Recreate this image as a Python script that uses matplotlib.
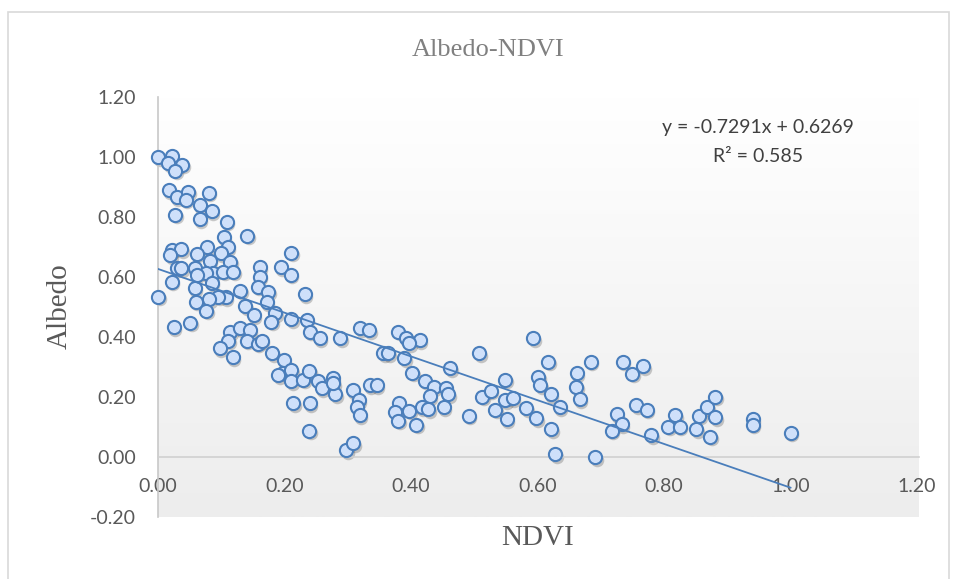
import matplotlib
matplotlib.use("Agg")
import matplotlib.pyplot as plt
import matplotlib.transforms as mtransforms
from matplotlib.patches import Rectangle
import numpy as np

# NDVI / Albedo pairs
ndvi = [
    0.000, 0.022, 0.016, 0.038, 0.027, 0.017, 0.030, 0.048, 0.044, 0.080,
    0.066, 0.085, 0.027, 0.066, 0.109, 0.104, 0.141, 0.110, 0.022, 0.037,
    0.019, 0.077, 0.061, 0.099, 0.211, 0.082, 0.114, 0.161, 0.194, 0.030,
    0.037, 0.058, 0.087, 0.103, 0.076, 0.119, 0.161, 0.210, 0.061, 0.022,
    0.085, 0.058, 0.158, 0.174, 0.232, 0.000, 0.107, 0.095, 0.130, 0.081,
    0.060, 0.172, 0.138, 0.076, 0.151, 0.185, 0.211, 0.179, 0.235, 0.025,
    0.051, 0.114, 0.130, 0.145,
    0.111, 0.240, 0.256, 0.288, 0.140, 0.158, 0.164, 0.098, 0.118, 0.181,
    0.199, 0.198, 0.211, 0.190, 0.211, 0.230, 0.239, 0.253, 0.259, 0.276,
    0.280, 0.277, 0.214, 0.240, 0.239, 0.298,
    0.320, 0.334, 0.380, 0.392, 0.414, 0.397, 0.356, 0.364, 0.389, 0.508,
    0.462, 0.402, 0.422, 0.436, 0.455, 0.459, 0.430, 0.308, 0.317, 0.314,
    0.319, 0.335, 0.346, 0.381, 0.374, 0.397, 0.380, 0.408, 0.417, 0.427,
    0.452, 0.491, 0.513, 0.526, 0.549, 0.533, 0.549, 0.561, 0.551, 0.309,
    0.593, 0.617, 0.601, 0.604, 0.621, 0.662, 0.661, 0.667, 0.684, 0.735,
    0.767, 0.750, 0.582, 0.598, 0.622, 0.635, 0.628, 0.691, 0.725, 0.733,
    0.717, 0.756, 0.773, 0.780, 0.807, 0.818, 0.825, 0.851, 0.856, 0.868,
    0.881, 0.881, 0.873, 0.940, 0.940, 1.000,
]
albedo = [
    1.000, 1.003, 0.980, 0.975, 0.955, 0.890, 0.866, 0.884, 0.857, 0.881,
    0.840, 0.820, 0.807, 0.792, 0.784, 0.732, 0.737, 0.700, 0.690, 0.692,
    0.673, 0.699, 0.677, 0.679, 0.681, 0.654, 0.651, 0.632, 0.632, 0.629,
    0.629, 0.629, 0.614, 0.618, 0.612, 0.618, 0.601, 0.607, 0.607, 0.584,
    0.581, 0.562, 0.568, 0.551, 0.543, 0.534, 0.532, 0.534, 0.554, 0.526,
    0.518, 0.516, 0.503, 0.488, 0.473, 0.479, 0.460, 0.451, 0.457, 0.432,
    0.448, 0.418, 0.429, 0.423,
    0.388, 0.418, 0.396, 0.396, 0.388, 0.377, 0.388, 0.362, 0.332, 0.346,
    0.323, 0.281, 0.290, 0.273, 0.253, 0.257, 0.288, 0.253, 0.229, 0.262,
    0.210, 0.246, 0.179, 0.179, 0.088, 0.023,
    0.429, 0.423, 0.418, 0.396, 0.390, 0.379, 0.346, 0.346, 0.329, 0.346,
    0.296, 0.281, 0.254, 0.232, 0.229, 0.210, 0.203, 0.223, 0.190, 0.166,
    0.140, 0.240, 0.240, 0.181, 0.151, 0.154, 0.121, 0.107, 0.166, 0.159,
    0.166, 0.137, 0.201, 0.221, 0.257, 0.157, 0.190, 0.196, 0.126, 0.046,
    0.396, 0.318, 0.268, 0.240, 0.210, 0.279, 0.234, 0.192, 0.318, 0.318,
    0.303, 0.277, 0.162, 0.129, 0.092, 0.166, 0.010, -0.001, 0.143, 0.110,
    0.088, 0.173, 0.157, 0.073, 0.101, 0.140, 0.101, 0.092, 0.137, 0.166,
    0.201, 0.132, 0.068, 0.126, 0.107, 0.081,
]

# linear trend line as reported on the chart
slope = -0.7291
intercept = 0.6269
r_squared = 0.585
trend_x = [0.0, 1.0]

x_ticks = [0.0, 0.2, 0.4, 0.6, 0.8, 1.0, 1.2]
y_ticks = [-0.2, 0.0, 0.2, 0.4, 0.6, 0.8, 1.0, 1.2]

W, H = 957, 579
fig = plt.figure(figsize=(W / 100, H / 100), dpi=100)

# chart frame
fig.patches.append(Rectangle((8 / W, -0.05), 941 / W, 1.05 - 12 / H,
                             transform=fig.transFigure, fill=False,
                             edgecolor='#d9d9d9', linewidth=1.2))

ax = fig.add_axes([158 / W, 1 - 517 / H, 761 / W, 420 / H])
ax.set_xlim(0, 1.2 * 761 / 759)
ax.set_ylim(-0.2, 1.2)

# soft vertical gradient in plot area
grad = np.linspace(0, 1, 256).reshape(-1, 1)
ax.imshow(grad, extent=[0, 1.21, -0.2, 1.2], aspect='auto', origin='upper',
          cmap=matplotlib.colors.LinearSegmentedColormap.from_list(
              'bg', ['#ffffff', '#ededed']), zorder=0)

for s in ['top', 'right']:
    ax.spines[s].set_visible(False)
ax.spines['bottom'].set_position(('data', 0))
ax.spines['bottom'].set_color('#d0d0d0')
ax.spines['left'].set_color('#c8c8c8')
ax.spines['bottom'].set_linewidth(1.2)
ax.spines['left'].set_linewidth(1.2)

ax.set_xticks(x_ticks)
ax.set_yticks(y_ticks)
ax.set_xticklabels([f"{v:.2f}" for v in x_ticks])
ax.set_yticklabels([f"{v:.2f}" for v in y_ticks])
ax.tick_params(axis='both', length=0, labelsize=14, labelcolor='#595959')
ax.tick_params(axis='x', pad=15)
ax.tick_params(axis='y', pad=16)
for lab in ax.get_xticklabels() + ax.get_yticklabels():
    lab.set_fontfamily('Lato')

# marker shadows then markers
shadow = mtransforms.offset_copy(ax.transData, fig=fig, x=1.5, y=-2.5, units='dots')
ax.scatter(ndvi, albedo, s=95, color='#000000', alpha=0.2, linewidths=0,
           transform=shadow, zorder=2, clip_on=False)
ax.scatter(ndvi, albedo, s=90, facecolor='#cfe0fa', edgecolor='#4a7ebb',
           linewidths=1.5, zorder=3, clip_on=False)

trend_y = [slope * v + intercept for v in trend_x]
ax.plot(trend_x, trend_y, color='#4a7ebb', linewidth=1.3, zorder=4)

fig.text(488 / W, 1 - 50 / H, 'Albedo-NDVI', ha='center', va='center',
         fontsize=19, family='Liberation Serif', color='#808080')
fig.text(60 / W, 1 - 306 / H, 'Albedo', ha='center', va='center', rotation=90,
         fontsize=21, family='Liberation Serif', color='#595959')
fig.text(538 / W, 1 - 538 / H, 'NDVI', ha='center', va='center',
         fontsize=21, family='Liberation Serif', color='#595959')

fig.text(758 / W, 1 - 128 / H, f"y = {slope}x + {intercept}", ha='center',
         va='center', fontsize=14, family='Lato', color='#404040')
fig.text(758 / W, 1 - 157 / H, f"R\u00b2 = {r_squared}", ha='center',
         va='center', fontsize=14, family='Lato', color='#404040')

fig.savefig('out.png', dpi=100)
